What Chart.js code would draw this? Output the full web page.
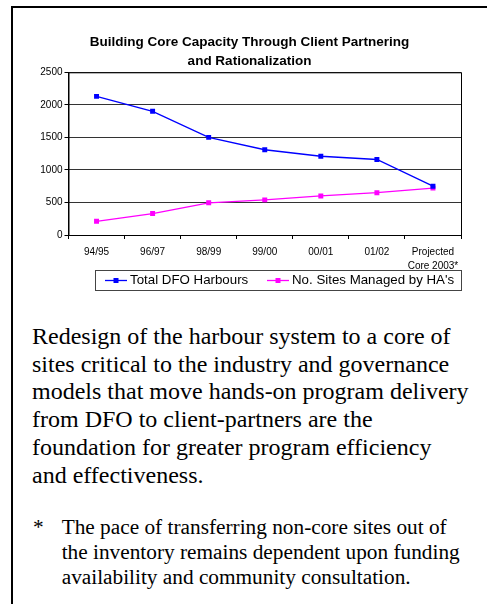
<!DOCTYPE html>
<html>
<head>
<meta charset="utf-8">
<script src="https://cdn.jsdelivr.net/npm/chart.js@4/dist/chart.umd.min.js"></script>
<style>
    body { margin: 0; background: #fff; }
    #frame {
        position: absolute; left: 11px; top: 6px; width: 600px; height: 700px;
        border-left: 2px solid #000; border-top: 2px solid #000;
    }
    #chartBox { position: absolute; left: 12px; top: 7px; width: 475px; height: 292px; }
    #body {
        position: absolute; left: 32px; top: 323px; white-space: nowrap;
        font-family: "Liberation Serif", "Times New Roman", serif;
        font-size: 24px; line-height: 27.7px; color: #000;
    }
    #note {
        position: absolute; left: 33px; top: 515px; white-space: nowrap;
        font-family: "Liberation Serif", "Times New Roman", serif;
        font-size: 21.3px; line-height: 25px; color: #000;
    }
    #note .star { position: absolute; left: 0; top: 0; }
    #note .txt { margin-left: 28.7px; }
</style>
</head>
<body>
<div id="frame"></div>
<div id="chartBox"><canvas id="coreChart" width="475" height="292"></canvas></div>
<div id="body">Redesign of the harbour system to a core of<br>sites critical to the industry and governance<br>models that move hands-on program delivery<br>from DFO to client-partners are the<br>foundation for greater program efficiency<br>and effectiveness.</div>
<div id="note"><span class="star">*</span><div class="txt">The pace of transferring non-core sites out of<br>the inventory remains dependent upon funding<br>availability and community consultation.</div></div>
<script>
// Data
const periods = ['94/95', '96/97', '98/99', '99/00', '00/01', '01/02', ['Projected', 'Core 2003*']];
const totalHarbours = [2130, 1900, 1500, 1310, 1210, 1160, 750];
const sitesManagedByHA = [210, 330, 495, 540, 600, 650, 720];
const yTicks = [0, 500, 1000, 1500, 2000, 2500];

const SANS = "'Liberation Sans', Arial, sans-serif";

// Black frame round the plot area (top and right sides)
const plotFrame = {
    id: 'plotFrame',
    afterDatasetsDraw(chart) {
        const a = chart.chartArea;
        const ctx = chart.ctx;
        ctx.save();
        ctx.strokeStyle = '#000';
        ctx.lineWidth = 1;
        ctx.strokeRect(a.left + 0.5, a.top + 0.5, a.right - a.left, a.bottom - a.top);
        ctx.restore();
    }
};

// Boxed legend under the axis, like the Excel one
const boxLegend = {
    id: 'boxLegend',
    afterDraw(chart) {
        const a = chart.chartArea;
        const ctx = chart.ctx;
        const top = a.bottom + 35;
        const left = a.left + 26.5;
        const w = a.right - left;
        const h = 20;
        ctx.save();
        ctx.strokeStyle = '#444';
        ctx.lineWidth = 1;
        ctx.strokeRect(left + 0.5, top + 0.5, w, h);
        const starts = [left + 10, left + 172];
        const cy = top + h / 2 + 0.5;
        chart.data.datasets.forEach((ds, i) => {
            const x = starts[i];
            ctx.strokeStyle = ds.borderColor;
            ctx.lineWidth = 1.3;
            ctx.beginPath();
            ctx.moveTo(x, cy);
            ctx.lineTo(x + 22, cy);
            ctx.stroke();
            ctx.fillStyle = ds.backgroundColor;
            ctx.fillRect(x + 8.5, cy - 2.5, 5, 5);
            ctx.fillStyle = '#000';
            ctx.font = '13.3px ' + SANS;
            ctx.textBaseline = 'middle';
            ctx.fillText(ds.label, x + 25, cy);
        });
        ctx.restore();
    }
};

new Chart(document.getElementById('coreChart'), {
    type: 'line',
    data: {
        labels: periods,
        datasets: [{
            label: 'Total DFO Harbours',
            data: totalHarbours,
            borderColor: '#0000ff',
            backgroundColor: '#0000ff',
            borderWidth: 1.3,
            pointStyle: 'rect',
            pointRadius: 3.5,
            pointBorderWidth: 0,
            tension: 0
        }, {
            label: "No. Sites Managed by HA's",
            data: sitesManagedByHA,
            borderColor: '#ff00ff',
            backgroundColor: '#ff00ff',
            borderWidth: 1.3,
            pointStyle: 'rect',
            pointRadius: 3.5,
            pointBorderWidth: 0,
            tension: 0
        }]
    },
    options: {
        responsive: false,
        animation: false,
        layout: { padding: { left: 26, right: 26, bottom: 20, top: 0 } },
        plugins: {
            legend: { display: false },
            tooltip: { enabled: false },
            title: {
                display: true,
                text: ['Building Core Capacity Through Client Partnering', 'and Rationalization'],
                color: '#000',
                font: { family: SANS, size: 13.5, weight: 'bold', lineHeight: 1.4 },
                padding: { top: 25.5, bottom: 2 }
            }
        },
        scales: {
            x: {
                offset: true,
                grid: {
                    offset: true,
                    drawOnChartArea: false,
                    drawTicks: true,
                    tickLength: 4,
                    color: '#000'
                },
                border: { color: '#000', width: 1 },
                ticks: {
                    color: '#000',
                    padding: 6,
                    maxRotation: 0,
                    autoSkip: false,
                    font: { family: SANS, size: 10, lineHeight: 1.4 }
                }
            },
            y: {
                min: 0,
                max: 2500,
                afterBuildTicks(scale) {
                    scale.ticks = yTicks.map(v => ({ value: v }));
                },
                afterFit(scale) {
                    scale.width = 30.5;
                },
                grid: {
                    color: '#333',
                    tickLength: 4,
                    tickColor: '#000'
                },
                border: { color: '#000', width: 1 },
                ticks: {
                    color: '#000',
                    padding: 2,
                    font: { family: SANS, size: 10 },
                    callback: v => String(v)
                }
            }
        }
    },
    plugins: [plotFrame, boxLegend]
});
</script>
</body>
</html>
